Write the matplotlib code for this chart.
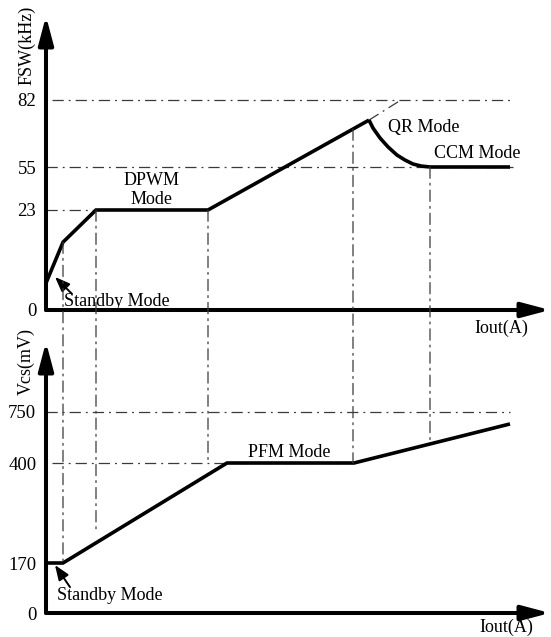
import numpy as np
import matplotlib
matplotlib.use("Agg")
import matplotlib.pyplot as plt
from matplotlib.scale import FuncScale
from matplotlib.patches import ConnectionPatch

plt.rcParams['font.family'] = ['Liberation Serif', 'DejaVu Serif']
plt.rcParams['font.size'] = 13

# ---------------- data (schematic) ----------------
# upper panel: switching frequency vs load
fsw_ticks = [0, 23, 55, 82]
fsw_iout = [0, 17, 50, 162, 323]
fsw_val = [6.2, 15.6, 23, 23, 73.9]
qr_iout = [323, 327, 334, 342, 351, 359, 367, 375, 384]
qr_val = [73.9, 70.7, 66.7, 63.1, 59.8, 57.8, 56.2, 55.4, 55.0]
ccm_iout = [384, 464]
ccm_val = [55, 55]

# lower panel: current-sense voltage vs load
vcs_ticks = [0, 170, 400, 750]
vcs_iout = [0, 17, 181, 308, 464]
vcs_val = [170, 170, 400, 400, 668]

# mode boundaries (Iout) with their top/bottom ends
bound_iout = [17, 50, 162, 307, 384]
bound_fsw = [15.6, 23, 23, 70.3, 55]
bound_vcs = [170, 239, 400, 400, 530]

# nonlinear (schematic) axis spacing: value -> drawn position
fsw_map_val = [0, 23, 55, 82, 100]
fsw_map_pos = [0, 100, 143, 210, 294]
vcs_map_val = [0, 170, 400, 750, 1000]
vcs_map_pos = [0, 50, 150, 201, 271]

W, H = 551, 637
fig = plt.figure(figsize=(W / 100, H / 100), dpi=100)

def make_ax(left_px, bottom_px, width_px, height_px):
    return fig.add_axes([left_px / W, bottom_px / H, width_px / W, height_px / H])

ax1 = make_ax(46, H - 310, 504, 294)
ax2 = make_ax(46, H - 613, 504, 271)

def piecewise_scale(ax, vals, pos):
    ax.set_yscale(FuncScale(ax, (lambda v: np.interp(v, vals, pos),
                                 lambda p: np.interp(p, pos, vals))))
    ax.set_ylim(vals[0], vals[-1])

piecewise_scale(ax1, fsw_map_val, fsw_map_pos)
piecewise_scale(ax2, vcs_map_val, vcs_map_pos)

guide = dict(color='#3a3a3a', lw=0.9, linestyle=(0, (9, 4, 1.5, 4)))
curve = dict(color='black', lw=2.6, solid_capstyle='butt', solid_joinstyle='miter')

for ax in (ax1, ax2):
    ax.set_xlim(0, 504)
    ax.patch.set_visible(False)
    for s in ax.spines.values():
        s.set_visible(False)
    ax.set_xticks([])
    ax.tick_params(axis='y', length=0, pad=7, labelsize=13.5)
    # axis arrows
    for tip in [(1, 0), (0, 1)]:
        ax.annotate('', xy=tip, xycoords='axes fraction', xytext=(0, 0),
                    textcoords='axes fraction',
                    arrowprops=dict(arrowstyle='-|>,head_length=17,head_width=4.5',
                                    mutation_scale=1, lw=2.9, color='black',
                                    shrinkA=0, shrinkB=0))

ax1.set_yticks(fsw_ticks)
ax1.set_yticklabels([str(t) for t in fsw_ticks])
ax2.set_yticks(vcs_ticks)
ax2.set_yticklabels([str(t) for t in vcs_ticks])
ax1.minorticks_off()
ax2.minorticks_off()

# guide lines upper
ax1.plot([6, 467], [82, 82], **guide)
ax1.plot([0, 467], [55, 55], **guide)
ax1.plot([0, 50], [23, 23], **guide)
ax1.plot([fsw_iout[-1], 355], [fsw_val[-1], 82], **guide)
# guide lines lower
ax2.plot([0, 464], [750, 750], **guide)
ax2.plot([6, 308], [400, 400], **guide)

# vertical mode boundaries spanning both panels
for x, yt, yb in zip(bound_iout, bound_fsw, bound_vcs):
    con = ConnectionPatch(xyA=(x, yt), coordsA=ax1.transData,
                          xyB=(x, yb), coordsB=ax2.transData,
                          color='#3a3a3a', lw=0.9, linestyle=(0, (9, 4, 1.5, 4)))
    fig.add_artist(con)

# curves
ax1.plot(fsw_iout, fsw_val, **curve)
ax1.plot(qr_iout, qr_val, **curve)
ax1.plot(ccm_iout, ccm_val, **curve)
ax2.plot(vcs_iout, vcs_val, **curve)

for a in (ax1, ax2):
    for l in a.lines:
        l.set_clip_on(False)

# texts upper
ax1.text(106, 38, 'DPWM\nMode', ha='center', va='center', linespacing=1.2)
ax1.text(342, 71.1, 'QR Mode', ha='left', va='center')
ax1.text(388, 60.6, 'CCM Mode', ha='left', va='center')
ax1.text(18, 1.9, 'Standby Mode', ha='left', va='center')
small_arrow = dict(arrowstyle='-|>,head_length=9,head_width=3.5', mutation_scale=1,
                   lw=1.4, color='black', shrinkA=0, shrinkB=0)
ax1.annotate('', xy=(9, 7.6), xytext=(26, 3.7), arrowprops=small_arrow)
ax1.annotate('Iout(A)', xy=(482, 0), xytext=(0, -13), textcoords='offset points',
             ha='right', va='center')
ax1.annotate('FSW(kHz)', xy=(0, 1), xycoords='axes fraction', xytext=(-14, -21),
             textcoords='offset points', rotation=90, ha='center', va='center')

# texts lower
ax2.text(284, 475, 'PFM Mode', ha='right', va='center')
ax2.text(11, 61, 'Standby Mode', ha='left', va='center')
ax2.annotate('', xy=(9, 163), xytext=(24, 88), arrowprops=small_arrow)
ax2.annotate('Iout(A)', xy=(487, 0), xytext=(0, -10.2), textcoords='offset points',
             ha='right', va='center')
ax2.annotate('Vcs(mV)', xy=(0, 1), xycoords='axes fraction', xytext=(-14, -13.7),
             textcoords='offset points', rotation=90, ha='center', va='center')

fig.savefig('out.png', dpi=100)
